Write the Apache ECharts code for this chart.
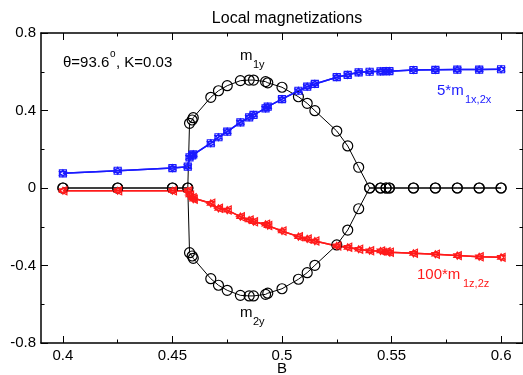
<!DOCTYPE html>
<html>
<head>
<meta charset="utf-8">
<script src="https://cdn.jsdelivr.net/npm/echarts@6/dist/echarts.min.js"></script>
<style>
  html, body { margin: 0; padding: 0; background: #fff; }
  #chart { width: 523px; height: 375px; }
</style>
</head>
<body>
<div id="chart"></div>
<script>
// field values B
const fieldB = [
  0.4, 0.425, 0.45, 0.457, 0.4578, 0.459, 0.4595, 0.4675, 0.471, 0.475, 0.481,
  0.485, 0.487, 0.4925, 0.4935, 0.5, 0.5075, 0.5115, 0.515, 0.525, 0.53, 0.535,
  0.54, 0.545, 0.5475, 0.549, 0.56, 0.57, 0.58, 0.59, 0.6
];
// m1y
const m1y = [
  0, 0, 0, 0, 0.334, 0.351, 0.363, 0.468, 0.502, 0.528, 0.554,
  0.557, 0.557, 0.549, 0.543, 0.520, 0.471, 0.437, 0.399, 0.294, 0.217, 0.107,
  0, 0, 0, 0, 0, 0, 0, 0, 0
];
// m2y
const m2y = [
  0, 0, 0, 0, -0.334, -0.351, -0.363, -0.468, -0.502, -0.528, -0.554,
  -0.557, -0.557, -0.549, -0.543, -0.520, -0.471, -0.437, -0.399, -0.294, -0.217, -0.107,
  0, 0, 0, 0, 0, 0, 0, 0, 0
];
// 5*m1x,2x
const m5x = [
  0.076, 0.089, 0.103, 0.110, 0.158, 0.168, 0.174, 0.231, 0.262, 0.291, 0.339,
  0.365, 0.377, 0.411, 0.420, 0.459, 0.502, 0.523, 0.537, 0.572, 0.584, 0.597,
  0.600, 0.602, 0.603, 0.603, 0.609, 0.610, 0.611, 0.611, 0.613
];
// 100*m1z,2z
const m100z = [
  -0.014, -0.014, -0.014, -0.014, -0.036, -0.050, -0.058, -0.079, -0.105, -0.114, -0.148,
  -0.165, -0.174, -0.187, -0.194, -0.222, -0.251, -0.263, -0.274, -0.299, -0.306, -0.316,
  -0.324, -0.325, -0.329, -0.332, -0.337, -0.342, -0.349, -0.355, -0.358
];
const xMajor = [0.4, 0.45, 0.5, 0.55, 0.6];
const xMinor = [0.425, 0.475, 0.525, 0.575];

const BLUE = '#1a1aff';
const RED = '#ff1a1a';
const FONT = 'Liberation Sans, Arial, sans-serif';

const pair = (ys) => fieldB.map((b, i) => [b, ys[i]]);

const circle = 'path://M10,0A10,10,0,1,1,-10,0A10,10,0,1,1,10,0Z';
const hexagram = 'path://M0,-10L8.66,5L-8.66,5Z M0,10L8.66,-5L-8.66,-5Z';
const triLeft = 'path://M-10,0L8,-9L8,9Z';
const square = 'path://M-10,-10L10,-10L10,10L-10,10Z';

function line(name, ys, color, symbol, size, width) {
  return {
    name, type: 'line', data: pair(ys),
    symbol, symbolSize: size,
    showSymbol: true,
    lineStyle: { color, width },
    itemStyle: { color: 'rgba(0,0,0,0)', borderColor: color, borderWidth: 1.2 },
    emphasis: { disabled: true },
    animation: false,
    z: 3
  };
}

const chart = echarts.init(document.getElementById('chart'), null, { renderer: 'canvas' });

const gridBox = { left: 41, right: 0, top: 33, bottom: 32, containLabel: false, outerBoundsMode: 'none' };
const xBase = {
  type: 'value', min: 0.39, max: 0.61,
  splitLine: { show: false },
  axisLine: { show: true, onZero: false, lineStyle: { color: '#000', width: 1.5 } }
};
const hiddenLine = { show: false, onZero: false };
const tickStyle = { color: '#000' };

chart.setOption({
  backgroundColor: '#fff',
  textStyle: { fontFamily: FONT },
  grid: [Object.assign({}, gridBox), Object.assign({}, gridBox)],
  title: {
    text: 'Local magnetizations', left: 282, top: 6, textAlign: 'center',
    textStyle: { fontSize: 16, fontWeight: 'normal', color: '#000', fontFamily: FONT }
  },
  xAxis: [
    Object.assign({}, xBase, {
      gridIndex: 0, position: 'bottom',
      name: 'B', nameLocation: 'middle', nameGap: 18, nameMoveOverlap: false,
      nameTextStyle: { fontSize: 15, color: '#000', fontFamily: FONT },
      axisTick: { inside: true, length: 7, customValues: xMajor, lineStyle: tickStyle },
      axisLabel: {
        customValues: xMajor, color: '#000', fontSize: 15, margin: 5, fontFamily: FONT,
        formatter: v => String(+v.toFixed(3))
      }
    }),
    Object.assign({}, xBase, {
      gridIndex: 0, position: 'top',
      axisTick: { inside: true, length: 7, customValues: xMajor, lineStyle: tickStyle },
      axisLabel: { show: false }
    }),
    Object.assign({}, xBase, {
      gridIndex: 1, position: 'bottom', axisLine: hiddenLine,
      axisTick: { inside: true, length: 3.5, customValues: xMinor, lineStyle: tickStyle },
      axisLabel: { show: false }
    }),
    Object.assign({}, xBase, {
      gridIndex: 1, position: 'top', axisLine: hiddenLine,
      axisTick: { inside: true, length: 3.5, customValues: xMinor, lineStyle: tickStyle },
      axisLabel: { show: false }
    })
  ],
  yAxis: [
    {
      type: 'value', gridIndex: 0, min: -0.8, max: 0.8, interval: 0.4, position: 'left',
      splitLine: { show: false },
      axisLine: { show: true, onZero: false, lineStyle: { color: '#000', width: 1.5 } },
      axisTick: { inside: true, length: 7, lineStyle: tickStyle },
      minorTick: { show: true, splitNumber: 2, length: 3.5, lineStyle: tickStyle },
      axisLabel: {
        color: '#000', fontSize: 15, margin: 5, fontFamily: FONT,
        formatter: v => String(+v.toFixed(2))
      }
    },
    {
      type: 'value', gridIndex: 0, min: -0.8, max: 0.8, interval: 0.4, position: 'right',
      splitLine: { show: false },
      axisLine: { show: true, onZero: false, lineStyle: { color: '#000', width: 1.5 } },
      axisTick: { inside: true, length: 7, lineStyle: tickStyle },
      minorTick: { show: true, splitNumber: 2, length: 3.5, lineStyle: tickStyle },
      axisLabel: { show: false }
    },
    {
      type: 'value', gridIndex: 1, min: -0.8, max: 0.8, show: false
    }
  ],
  series: [
    line('m1y', m1y, '#000', circle, 10, 1),
    line('m2y', m2y, '#000', circle, 10, 1),
    line('5*m1x', m5x, BLUE, square, 7, 1.5),
    line('5*m2x', m5x, BLUE, hexagram, 7, 1.5),
    line('100*m1z', m100z, RED, triLeft, 8, 1.5),
    line('100*m2z', m100z, RED, hexagram, 7, 1.5)
  ],
  graphic: [
    { type: 'text', left: 63, top: 55, style: { text: 'θ=93.6', font: '15px ' + FONT, fill: '#000' } },
    { type: 'text', left: 110, top: 49, style: { text: 'o', font: '10px ' + FONT, fill: '#000' } },
    { type: 'text', left: 116, top: 55, style: { text: ', K=0.03', font: '15px ' + FONT, fill: '#000' } },

    { type: 'text', left: 240, top: 48, style: { text: 'm', font: '15px ' + FONT, fill: '#000' } },
    { type: 'text', left: 253, top: 59, style: { text: '1y', font: '11px ' + FONT, fill: '#000' } },

    { type: 'text', left: 240, top: 305, style: { text: 'm', font: '15px ' + FONT, fill: '#000' } },
    { type: 'text', left: 253, top: 316, style: { text: '2y', font: '11px ' + FONT, fill: '#000' } },

    { type: 'text', left: 437, top: 83, style: { text: '5*m', font: '15px ' + FONT, fill: BLUE } },
    { type: 'text', left: 465, top: 94, style: { text: '1x,2x', font: '11px ' + FONT, fill: BLUE } },

    { type: 'text', left: 417, top: 267, style: { text: '100*m', font: '15px ' + FONT, fill: RED } },
    { type: 'text', left: 463, top: 278, style: { text: '1z,2z', font: '11px ' + FONT, fill: RED } }
  ]
});
</script>
</body>
</html>
